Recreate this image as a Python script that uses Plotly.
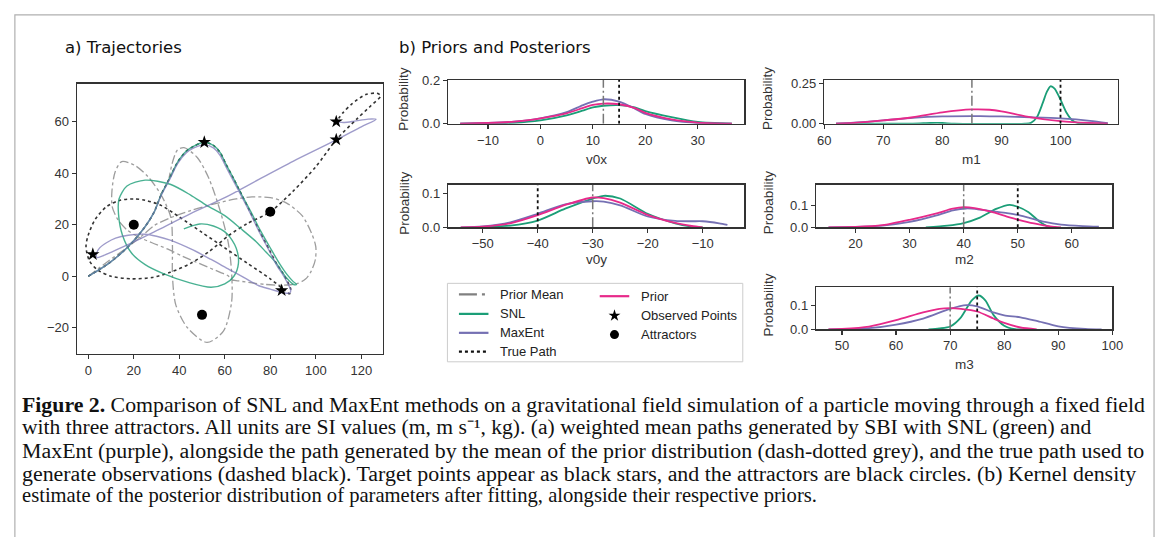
import plotly.graph_objects as go

W, H = 1168, 537

# ---------------- trajectories (panel a) ----------------
true_x = [0, 9, 17.6, 24.8, 29, 32, 36, 39.2, 43, 46.4, 51, 55, 58, 60.5, 63.8, 67.5, 71, 75, 79.6, 83, 85.4, 87.5, 89, 88.5, 85,
          80, 70, 60, 50, 40, 32, 25, 20, 14, 8, 3, 0, -1, 0.5, 4, 10, 19, 28, 36, 45, 53, 62, 70, 80, 90, 100, 109, 118,
          124, 128.5, 127, 122, 116, 112, 109]
true_y = [0, 5, 11.5, 19, 25, 31.6, 38.5, 44.2, 48.5, 50.5, 52, 50.8, 48, 43.5, 38, 31.5, 25.3, 18, 10.2, 4.5, 1.4, -2, -5, -6.8,
          -4.5, -1, 5, 11, 17, 23, 27.5, 29.5, 30, 29.5, 27, 22, 16, 11.5, 6, 2.5, 0, -1, -0.5, 1.5, 5, 9.5, 16, 20.5, 25,
          33, 42.5, 53, 61, 66, 70, 71, 70.5, 67, 63.5, 60]

snl_x = [0, 9, 17.6, 24.8, 29, 32, 36, 39.2, 43, 46.4, 51, 55, 58, 60.5, 63.8, 67.8, 71.5, 75.5, 80, 84, 87.5, 90, 91.5,
         90.5, 87, 82.5, 78, 73.8, 67, 60, 52, 45, 36, 25, 17, 13.5, 13.3, 15, 19, 25, 33, 44, 54, 60, 64, 66, 65, 61,
         55, 49, 42]
snl_y = [0, 5, 11.5, 19, 25, 31.6, 38.5, 44.2, 48.5, 50.5, 52, 50.8, 48, 43.5, 38, 31, 25, 18, 11, 5, 0.5, -2, -3.2,
         -3.3, -0.5, 5.2, 9.5, 13.4, 18.5, 23.5, 27.5, 31.5, 35.7, 37.3, 35, 30, 24, 16, 9, 4.5, 1, -2.4, -4.3, -3, 0,
         5, 11, 16.5, 19.5, 20.3, 18.4]

maxent_x = [0, 9, 17.6, 24.8, 29, 32, 36, 39.2, 43, 46.4, 51, 55, 58, 60.5, 63.8, 67.5, 71, 75, 79.6, 83, 85.4, 87.5, 89,
            88.5, 86, 80, 75, 68.5, 62, 54, 46, 36, 30, 25, 17.6, 12, 8, 5, 3.7, 3.8, 6, 10, 20, 30, 45, 60, 75, 90,
            108.8, 120, 126.5, 123, 117, 112.5, 110]
maxent_y = [0, 5, 11.5, 19, 25, 31.3, 38, 43.6, 47.8, 49.8, 51, 49.8, 46.8, 42.5, 37, 30.8, 24.8, 17.5, 9.8, 4, 0.8, -2.5,
            -5.5, -6.5, -6.5, -5, -3.7, -0.5, 2.6, 6.5, 10.2, 14, 15.5, 16.3, 15.9, 14.8, 13, 11, 9, 7.3, 7.8, 9.3, 13.3,
            17.7, 24.3, 30.5, 37.6, 44.6, 52.8, 58, 60.9, 61, 60.2, 59.7, 59.8]

prior_path_x = [0, 9, 17.6, 24, 29, 37, 45, 55, 65, 72, 80, 87, 94, 98, 100, 99.8, 98, 95.5, 92, 89, 84, 78, 72, 66,
                62.5, 61.6, 58, 50, 42, 35, 28, 21.9, 17, 13, 10.5, 10.4, 11.8, 14.7, 20.5, 26.3, 32, 36.3, 37, 37,
                38.5, 43.6, 52.2, 59.4, 63, 63, 61.6, 58, 53, 47.9, 42.1, 39.2, 37, 35.5]
prior_path_y = [0, 6, 11.5, 16, 19.7, 23, 25.5, 28, 30, 30.8, 30.5, 28.5, 23.5, 17, 11.5, 6.4, 2, -1.1, -2.8, -3.3,
                -3.5, -3.2, -2.6, -1.8, -1.2, 0.1, 1.5, 4.5, 7.5, 10.5, 13, 15.3, 18, 22, 27, 33, 40.5, 44.5, 43,
                38.6, 31.6, 22.8, 11.5, 0.1, -11.2, -20, -25.7, -21.3, -10, 1.4, 12.7, 25.3, 38, 46.1, 49.9, 49,
                44.2, 38]

obs_x = [2, 51, 85, 109, 109]
obs_y = [8.5, 52, -5.5, 53, 60]
attr_x = [20, 80, 50]
attr_y = [20, 25, -15]

# ---------------- densities (panel b) ----------------
v0x_x = [-15.3, -10, -5, 0, 5, 8, 10, 12, 15, 18, 20, 25, 30, 36.5]
v0x_prior = [0, 0.003, 0.009, 0.025, 0.048, 0.072, 0.087, 0.093, 0.09, 0.072, 0.05, 0.02, 0.005, 0]
v0x_maxent = [0, 0.003, 0.009, 0.025, 0.053, 0.085, 0.102, 0.113, 0.102, 0.07, 0.045, 0.015, 0.003, 0]
v0x_snl = [0, 0.001, 0.004, 0.015, 0.038, 0.06, 0.075, 0.083, 0.086, 0.075, 0.058, 0.03, 0.008, 0]

m1_x = [62, 65, 70, 75, 80, 85, 88, 90, 95, 100, 105, 108]
m1_prior = [0, 0.005, 0.02, 0.04, 0.071, 0.089, 0.087, 0.077, 0.04, 0.016, 0.004, 0]
m1_maxent = [0, 0.006, 0.02, 0.036, 0.045, 0.047, 0.046, 0.045, 0.04, 0.033, 0.018, 0.003]
m1_snl_x = [62, 75, 78, 80, 82, 94, 95, 96, 97, 97.7, 98.3, 99, 100, 101, 102, 103, 104, 108]
m1_snl = [0, 0, 0.004, 0.004, 0, 0, 0.005, 0.04, 0.13, 0.2, 0.234, 0.22, 0.15, 0.07, 0.02, 0.003, 0, 0]

v0y_x = [-54, -50, -45, -40, -35, -30, -28, -25, -20, -15, -12, -10, -7, -5.5]
v0y_maxent = [0, 0.003, 0.015, 0.04, 0.068, 0.077, 0.076, 0.065, 0.032, 0.019, 0.018, 0.018, 0.012, 0.007]
v0y_prior_x = [-54, -50, -45, -40, -35, -30, -28, -25, -20, -15, -12, -10]
v0y_prior = [0, 0.002, 0.012, 0.036, 0.066, 0.088, 0.086, 0.073, 0.037, 0.013, 0.004, 0]
v0y_snl_x = [-52, -50, -45, -40, -35, -30, -28, -25, -20, -15, -12, -10]
v0y_snl = [0, 0.001, 0.005, 0.02, 0.055, 0.085, 0.093, 0.085, 0.04, 0.012, 0.002, 0]

m2_prior_x = [15, 20, 25, 30, 35, 38, 40, 42, 45, 48, 50, 53, 56, 58]
m2_prior = [0, 0.002, 0.01, 0.035, 0.065, 0.086, 0.093, 0.089, 0.072, 0.05, 0.036, 0.018, 0.004, 0]
m2_maxent_x = [15, 20, 25, 30, 35, 38, 40.5, 43, 45, 48, 50, 52, 55, 58, 62, 65]
m2_maxent = [0, 0.002, 0.008, 0.025, 0.055, 0.078, 0.087, 0.082, 0.075, 0.066, 0.058, 0.045, 0.025, 0.013, 0.006, 0.003]
m2_snl_x = [33, 37, 40, 43, 46, 48.5, 50, 52, 54, 55.5, 57]
m2_snl = [0, 0.008, 0.02, 0.045, 0.085, 0.104, 0.095, 0.07, 0.027, 0.005, 0]

m3_prior_x = [47.5, 50, 55, 60, 65, 68, 70, 72, 75, 78, 80, 83, 86]
m3_prior = [0, 0.002, 0.012, 0.038, 0.07, 0.085, 0.088, 0.085, 0.074, 0.045, 0.027, 0.008, 0]
m3_maxent_x = [47.5, 55, 60, 65, 70, 73, 75, 78, 80, 83, 86, 90, 95, 98]
m3_maxent = [0, 0.005, 0.02, 0.045, 0.085, 0.1, 0.095, 0.07, 0.058, 0.05, 0.035, 0.013, 0.002, 0]
m3_snl_x = [66, 68, 70, 72, 74, 75.3, 76.5, 78, 80, 82, 84]
m3_snl = [0, 0.004, 0.012, 0.05, 0.12, 0.14, 0.12, 0.06, 0.015, 0.001, 0]

param_names = ["v0x", "m1", "v0y", "m2", "m3"]
prior_means = [12, 85, -30, 40, 70]
true_values = [15, 100, -40, 50, 75]

C_SNL = "#1b9e77"
C_MAX = "#7570b3"
C_PRI = "#e7298a"
AXC = "#333333"
TICKF = dict(family="Liberation Sans, Arial, sans-serif", size=13, color="#333333")


def fx(px):
    return px / W


def fy(py):
    return 1 - py / H


fig = go.Figure()

axes = {
    "traj": ((71, 382, 79, 357), [-5, 129.6], [-30.2, 74.7], [0, 20, 40, 60, 80, 100, 120], [-20, 0, 20, 40, 60], None),
    "v0x": ((448, 749, 75, 120), [-17.6, 38.9], [0, 0.203], [-10, 0, 10, 20, 30], [0.0, 0.2], ".1f"),
    "m1": ((830, 1128.5, 75, 120), [60, 109.75], [0, 0.274], [60, 70, 80, 90, 100, 110], [0.0, 0.25], ".2f"),
    "v0y": ((448, 749, 182.7, 226.7), [-56.3, -2.4], [0, 0.126], [-50, -40, -30, -20, -10], [0.0, 0.1], ".1f"),
    "m2": ((821.7, 1122.7, 182.7, 226.7), [12.7, 67.5], [0, 0.197], [20, 30, 40, 50, 60], [0.0, 0.1], ".1f"),
    "m3": ((821.7, 1122.7, 288.3, 331.7), [45.2, 100], [0, 0.174], [50, 60, 70, 80, 90, 100], [0.0, 0.1], ".1f"),
}
order = ["traj", "v0x", "m1", "v0y", "m2", "m3"]
ref = {}
for i, name in enumerate(order):
    n = i + 1
    (x0, x1, y0, y1), xr, yr, xt, yt, yf = axes[name]
    xa = dict(domain=[fx(x0), fx(x1)], range=xr, showline=True, mirror=True, linecolor=AXC, linewidth=1.3,
              ticks="outside", ticklen=4, tickwidth=1.2, tickcolor=AXC, tickvals=xt, tickfont=TICKF,
              showgrid=False, zeroline=False, anchor="y%d" % n if n > 1 else "y")
    ya = dict(domain=[fy(y1), fy(y0)], range=yr, showline=True, mirror=True, linecolor=AXC, linewidth=1.3,
              ticks="outside", ticklen=4, tickwidth=1.2, tickcolor=AXC, tickvals=yt, tickfont=TICKF,
              showgrid=False, zeroline=False, anchor="x%d" % n if n > 1 else "x")
    if yf:
        ya["tickformat"] = yf
    key = "" if n == 1 else str(n)
    fig.update_layout(**{"xaxis" + key: xa, "yaxis" + key: ya})
    ref[name] = ("x" + key, "y" + key)

# ---- trajectories ----
xr_, yr_ = ref["traj"]
fig.add_trace(go.Scatter(x=prior_path_x, y=prior_path_y, mode="lines", xaxis=xr_, yaxis=yr_,
                         line=dict(color="rgba(140,140,140,0.85)", width=1.3, dash="dashdot", shape="spline", smoothing=0.8)))
fig.add_trace(go.Scatter(x=true_x, y=true_y, mode="lines", xaxis=xr_, yaxis=yr_,
                         line=dict(color="#333333", width=1.6, dash="dot", shape="spline", smoothing=0.8)))
fig.add_trace(go.Scatter(x=snl_x, y=snl_y, mode="lines", xaxis=xr_, yaxis=yr_,
                         line=dict(color="rgba(27,158,119,0.8)", width=1.4, shape="spline", smoothing=0.8)))
fig.add_trace(go.Scatter(x=maxent_x, y=maxent_y, mode="lines", xaxis=xr_, yaxis=yr_,
                         line=dict(color="rgba(117,112,179,0.7)", width=1.4, shape="spline", smoothing=0.8)))
fig.add_trace(go.Scatter(x=obs_x, y=obs_y, mode="markers", xaxis=xr_, yaxis=yr_,
                         marker=dict(symbol="star", size=10, color="black")))
fig.add_trace(go.Scatter(x=attr_x, y=attr_y, mode="markers", xaxis=xr_, yaxis=yr_,
                         marker=dict(symbol="circle", size=10, color="black")))

# ---- densities ----
dens = {
    "v0x": [(v0x_x, v0x_snl, C_SNL), (v0x_x, v0x_maxent, C_MAX), (v0x_x, v0x_prior, C_PRI)],
    "m1": [(m1_snl_x, m1_snl, C_SNL), (m1_x, m1_maxent, C_MAX), (m1_x, m1_prior, C_PRI)],
    "v0y": [(v0y_snl_x, v0y_snl, C_SNL), (v0y_x, v0y_maxent, C_MAX), (v0y_prior_x, v0y_prior, C_PRI)],
    "m2": [(m2_snl_x, m2_snl, C_SNL), (m2_maxent_x, m2_maxent, C_MAX), (m2_prior_x, m2_prior, C_PRI)],
    "m3": [(m3_snl_x, m3_snl, C_SNL), (m3_maxent_x, m3_maxent, C_MAX), (m3_prior_x, m3_prior, C_PRI)],
}
for pname, pm, tv in zip(param_names, prior_means, true_values):
    xr_, yr_ = ref[pname]
    top = axes[pname][2][1]
    for xs, ys, col in dens[pname]:
        fig.add_trace(go.Scatter(x=xs, y=ys, mode="lines", xaxis=xr_, yaxis=yr_,
                                 line=dict(color=col, width=1.8, shape="spline", smoothing=0.7)))
    fig.add_trace(go.Scatter(x=[pm, pm], y=[0, top], mode="lines", xaxis=xr_, yaxis=yr_,
                             line=dict(color="#777777", width=1.5, dash="10px,3px,2px,3px")))
    fig.add_trace(go.Scatter(x=[tv, tv], y=[0, top], mode="lines", xaxis=xr_, yaxis=yr_,
                             line=dict(color="#111111", width=1.8, dash="dot")))

# ---- legend drawn in a pixel-space overlay axis ----
fig.update_layout(xaxis7=dict(domain=[0, 1], range=[0, W], visible=False, anchor="y7"),
                  yaxis7=dict(domain=[0, 1], range=[H, 0], visible=False, anchor="x7"))
leg_lines = [
    (459, 489, 295.7, "#808080", "18px,5px,3px,10px", "Prior Mean"),
    (459, 489, 315.7, C_SNL, "solid", "SNL"),
    (459, 489, 335.2, C_MAX, "solid", "MaxEnt"),
    (459, 489, 354.5, "#111111", "dot", "True Path"),
    (602, 632, 297.5, C_PRI, "solid", "Prior"),
]
for a, b, yy, col, dsh, lab in leg_lines:
    fig.add_trace(go.Scatter(x=[a, b], y=[yy, yy], mode="lines", xaxis="x7", yaxis="y7",
                             line=dict(color=col, width=2.2, dash=dsh)))
fig.add_trace(go.Scatter(x=[617], y=[317.5], mode="markers", xaxis="x7", yaxis="y7",
                         marker=dict(symbol="star", size=9, color="black")))
fig.add_trace(go.Scatter(x=[617], y=[337], mode="markers", xaxis="x7", yaxis="y7",
                         marker=dict(symbol="circle", size=9, color="black")))

LEGF = dict(family="Liberation Sans, Arial, sans-serif", size=13, color="#222222")
ann = []
for a, b, yy, col, dsh, lab in leg_lines:
    ann.append(dict(x=fx(b + 9.5), y=fy(yy), text=lab, xanchor="left", yanchor="middle", font=LEGF))
ann.append(dict(x=fx(641.7), y=fy(317.5), text="Observed Points", xanchor="left", yanchor="middle", font=LEGF))
ann.append(dict(x=fx(641.7), y=fy(337), text="Attractors", xanchor="left", yanchor="middle", font=LEGF))

shapes = [
    dict(type="rect", xref="paper", yref="paper", x0=fx(447.3), x1=fx(747.3), y0=fy(365), y1=fy(284.3),
         line=dict(color="#cccccc", width=1), fillcolor="rgba(255,255,255,0.8)", layer="below"),
    dict(type="rect", xref="paper", yref="paper", x0=fx(8), x1=fx(1165), y0=-0.05, y1=fy(8),
         line=dict(color="#b0b0b0", width=1.2), layer="below"),
]

TITF = dict(family="DejaVu Sans, sans-serif", size=16.5, color="#111111")
ann.append(dict(x=fx(57), y=fy(41.5), text="a) Trajectories", xanchor="left", yanchor="middle", font=TITF))
ann.append(dict(x=fx(396), y=fy(41.5), text="b) Priors and Posteriors", xanchor="left", yanchor="middle", font=TITF))

LABF = dict(family="Liberation Sans, Arial, sans-serif", size=13.5, color="#333333")
xlab_y = {"v0x": 157, "m1": 157, "v0y": 260, "m2": 260, "m3": 368}
for pname in param_names:
    (x0, x1, y0, y1) = axes[pname][0]
    ann.append(dict(x=fx((x0 + x1) / 2), y=fy(xlab_y[pname]), text=pname, xanchor="center", yanchor="middle",
                    font=LABF))
    ylx = 403 if x0 < 600 else 773
    ann.append(dict(x=fx(ylx), y=fy((y0 + y1) / 2 - 3), text="Probability", textangle=-90, xanchor="center",
                    yanchor="middle", font=LABF))

cap_lines = [
    "<b>Figure 2.</b> Comparison of SNL and MaxEnt methods on a gravitational field simulation of a particle moving through a fixed field",
    "with three attractors. All units are SI values (m, m s\u207b\u00b9, kg). (a) weighted mean paths generated by SBI with SNL (green) and",
    "MaxEnt (purple), alongside the path generated by the mean of the prior distribution (dash-dotted grey), and the true path used to",
    "generate observations (dashed black). Target points appear as black stars, and the attractors are black circles. (b) Kernel density",
    "estimate of the posterior distribution of parameters after fitting, alongside their respective priors.",
]
cap_y = [409, 432.5, 456, 479.5, 503]
cap_size = [21.8, 21.6, 21.9, 21.9, 20.6]
for t, yy, fs in zip(cap_lines, cap_y, cap_size):
    ann.append(dict(x=fx(13), y=fy(yy), text=t, xanchor="left", yanchor="middle",
                    font=dict(family="Liberation Serif, Times New Roman, serif", size=fs, color="#111111")))

for a_ in ann:
    a_.update(xref="paper", yref="paper", showarrow=False)

fig.update_layout(width=W, height=H, margin=dict(l=0, r=0, t=0, b=0), showlegend=False,
                  paper_bgcolor="white", plot_bgcolor="rgba(0,0,0,0)", annotations=ann, shapes=shapes)

fig.write_html("out.html", post_script="document.body.style.margin='0px';",
               config={"displayModeBar": False, "staticPlot": True})
